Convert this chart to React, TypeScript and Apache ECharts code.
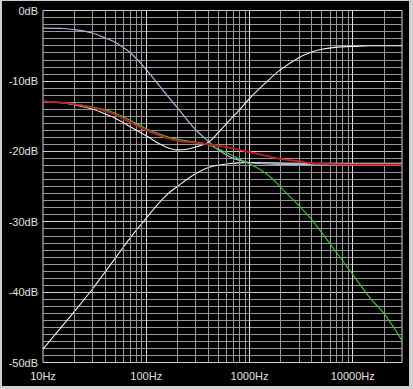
import React, { useEffect, useRef } from "react";
import * as echarts from "echarts";

// frequency (Hz), level (dB)
const blueCurve: [number, number][] = [
  [10, -2.5], [15, -2.55], [20, -2.7], [30, -3.2], [40, -3.9], [50, -4.5], [70, -6.0],
  [100, -8.4], [150, -11.6], [200, -13.8], [300, -16.9], [400, -18.6], [500, -19.8],
  [700, -21.0], [1000, -21.6], [1500, -21.8], [2000, -21.85], [5000, -21.9], [30000, -21.9],
];
const whiteDipCurve: [number, number][] = [
  [10, -12.9], [15, -13.1], [20, -13.4], [30, -14.0], [40, -14.7], [50, -15.3], [70, -16.5],
  [100, -17.8], [150, -19.3], [200, -19.8], [250, -19.7], [300, -19.4], [400, -18.7],
  [500, -17.3], [650, -15.5], [800, -14.1], [1000, -12.5], [1500, -10.0], [2000, -8.4],
  [3000, -6.7], [4000, -5.9], [5000, -5.5], [7000, -5.2], [10000, -5.1], [15000, -5.0],
  [20000, -5.0], [30000, -5.0],
];
const whiteRiseCurve: [number, number][] = [
  [10, -48.1], [15, -45.0], [20, -42.8], [30, -39.6], [50, -35.2], [70, -32.3], [100, -29.5],
  [150, -26.5], [200, -25.0], [300, -23.2], [400, -22.3], [600, -21.8], [800, -21.65],
  [1000, -21.6], [3000, -21.7], [30000, -21.7],
];
const greenCurve: [number, number][] = [
  [10, -12.9], [15, -13.1], [20, -13.3], [30, -13.7], [40, -14.1], [50, -14.6], [70, -15.6],
  [100, -16.8], [150, -17.8], [200, -18.3], [300, -18.7], [400, -19.1], [600, -20.2],
  [800, -21.1], [1000, -21.8], [1300, -22.7], [1700, -24.0], [2000, -25.1], [3000, -27.7],
  [4000, -29.7], [6000, -33.1], [10000, -37.5], [15000, -41.0], [20000, -43.0], [30000, -46.9],
];
const redCurve: [number, number][] = [
  [10, -12.9], [15, -13.1], [20, -13.3], [30, -13.8], [40, -14.3], [50, -14.8], [70, -15.9],
  [100, -17.0], [150, -18.0], [200, -18.5], [300, -18.8], [400, -19.0], [600, -19.4],
  [800, -19.8], [1000, -20.1], [1500, -20.7], [2000, -21.1], [3000, -21.4], [4000, -21.7],
  [5000, -21.8], [7000, -21.85], [10000, -21.9], [30000, -21.9],
];

const minorFreqs = [
  20, 30, 40, 50, 60, 70, 80, 90,
  200, 300, 400, 500, 600, 700, 800, 900,
  2000, 3000, 4000, 5000, 6000, 7000, 8000, 9000,
  20000,
];
const decadeFreqs = [100, 1000, 10000];

const FONT = "'Liberation Sans', Arial, sans-serif";

export default function App() {
  const ref = useRef<HTMLDivElement>(null);
  useEffect(() => {
    document.body.style.margin = "0";
    const chart = echarts.init(ref.current!, null, { renderer: "svg" });
    const lineSeries = (data: [number, number][], color: string, width: number, z: number) => ({
      type: "line",
      data,
      showSymbol: false,
      symbol: "none",
      smooth: 0.4,
      lineStyle: { color, width },
      z,
      silent: true,
    });
    chart.setOption({
      animation: false,
      backgroundColor: "#d0d0d0",
      graphic: [
        {
          type: "rect",
          z: -100,
          silent: true,
          shape: { x: 2, y: 1, width: 407, height: 385 },
          style: { fill: "#000000" },
        },
      ],
      grid: {
        left: 43,
        top: 10.5,
        width: 359,
        height: 352,
        show: true,
        borderColor: "#d8d8d8",
        borderWidth: 1,
        backgroundColor: "transparent",
      },
      xAxis: {
        type: "log",
        logBase: 10,
        min: 10,
        max: 30000,
        axisLine: { show: false },
        axisTick: { show: false },
        splitLine: { show: false },
        axisLabel: {
          color: "#e0e0e0",
          fontFamily: FONT,
          fontSize: 11,
          margin: 8,
          showMaxLabel: false,
          formatter: (v: number) => `${Math.round(v)}Hz`,
        },
      },
      yAxis: {
        type: "value",
        min: -50,
        max: 0,
        interval: 10,
        axisLine: { show: false },
        axisTick: { show: false },
        axisLabel: {
          color: "#e0e0e0",
          fontFamily: FONT,
          fontSize: 11,
          margin: 5,
          formatter: "{value}dB",
        },
        splitLine: { show: true, lineStyle: { color: "#d0d0d0", width: 1 } },
        minorTick: { show: false, splitNumber: 10 },
        minorSplitLine: { show: true, lineStyle: { color: "#999999", width: 1 } },
      },
      series: [
        {
          type: "line",
          data: [],
          silent: true,
          z: 1,
          markLine: {
            silent: true,
            symbol: ["none", "none"],
            label: { show: false },
            animation: false,
            data: [
              ...minorFreqs.map((f) => ({ xAxis: f, lineStyle: { color: "#999999", width: 1, type: "solid" } })),
              ...decadeFreqs.map((f) => ({ xAxis: f, lineStyle: { color: "#e0e0e0", width: 1, type: "solid" } })),
            ],
          },
        },
        lineSeries(whiteRiseCurve, "#f0f0f0", 1.1, 3),
        lineSeries(blueCurve, "#a8b8e8", 1.2, 4),
        lineSeries(whiteDipCurve, "#eeeeee", 1.1, 5),
        lineSeries(greenCurve, "#2ccc2c", 1.2, 6),
        lineSeries(redCurve, "#c41a1a", 1.8, 7),
      ],
    });
    return () => chart.dispose();
  }, []);
  return <div ref={ref} style={{ width: 413, height: 389 }} />;
}
